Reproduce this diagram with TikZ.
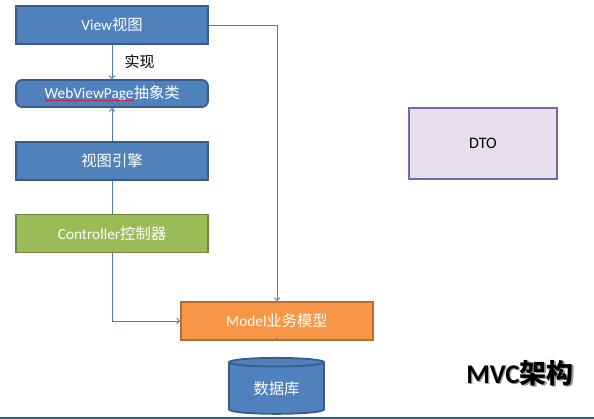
\documentclass[tikz,border=0pt]{standalone}
\usepackage{fontspec}
\setmainfont{Carlito}
\newfontfamily\cjk{Noto Sans CJK SC}
\usetikzlibrary{positioning,calc,arrows.meta,shapes.geometric,decorations.pathmorphing}

\definecolor{blueFill}{HTML}{4F81BD}
\definecolor{blueDraw}{HTML}{385D8A}
\definecolor{greenFill}{HTML}{9BBB59}
\definecolor{greenDraw}{HTML}{71893F}
\definecolor{orangeFill}{HTML}{F79646}
\definecolor{orangeDraw}{HTML}{B66D31}
\definecolor{dtoFill}{HTML}{E5E0EC}
\definecolor{dtoDraw}{HTML}{8064A2}
\definecolor{lineCol}{HTML}{4A7EBB}

% spell-check underline
\newcommand\squig[1]{\tikz[baseline=(w.base)]{\node[inner sep=0pt,outer sep=0pt,minimum width=0pt,
  minimum height=0pt,draw=none,fill=none,rounded corners=0pt](w){#1};
  \draw[red,line width=0.5pt,rounded corners=0pt,decorate,decoration={snake,amplitude=0.6pt,segment length=2.5pt}]
  ([yshift=-2pt]w.base west) -- ([yshift=-2pt]w.base east);}}

\begin{document}
\begin{tikzpicture}[x=1pt,y=-1pt,
    box/.style={draw=blueDraw,fill=blueFill,line width=1.8pt,minimum width=192pt,
      minimum height=38pt,text=white,font=\fontsize{15.3}{17}\selectfont,inner sep=0pt},
    link/.style={draw=lineCol,line width=0.8pt},
    arr/.style={link,-{Straight Barb[length=3pt,width=6pt]}}]
    \useasboundingbox (0,0) rectangle (594,419);

    % View side
    \node[box] (View) at (112,25) {View{\cjk 视图}};
    \node[box,rounded corners=6pt,minimum height=27pt] (Page) at (112,93.5) {\squig{WebViewPage}{\cjk 抽象类}};
    \node[box] (Engine) at (112,161) {{\cjk 视图引擎}};
    \node[box,draw=greenDraw,fill=greenFill] (Ctrl) at (112,233.5) {Controller{\cjk 控制器}};

    % Model side
    \node[box,draw=orangeDraw,fill=orangeFill] (Model) at (277,321) {Model{\cjk 业务模型}};
    \node[cylinder,shape border rotate=90,aspect=0.19,draw=blueDraw,fill=blueFill,line width=1.8pt,
      minimum width=95pt,minimum height=56pt,text=white,inner sep=0pt,
      font=\fontsize{15.3}{17}\selectfont] (DB) at (276.5,388.5) {\raisebox{-6pt}{\cjk 数据库}};
    \node[draw=dtoDraw,fill=dtoFill,line width=1.8pt,minimum width=148pt,minimum height=71pt,
      font=\fontsize{16}{18}\selectfont] (DTO) at (483,143.5) {DTO};

    % connectors
    \draw[arr] (View) -- node[right=9pt,font=\cjk\fontsize{15}{17}\selectfont] (impl) {实现} (Page);
    \draw[arr] (Engine) -- (Page);
    \draw[link] (Engine) -- (Ctrl);
    \draw[arr] (Ctrl.south) |- (Model.west);
    \draw[arr] (View.east) -| (Model.north);
    \coordinate (dbIn) at ($(DB.north)+(0,-20)$);
    \draw[link] (Model.south) -- (dbIn);

    % title
    \node[text=black!40,font=\fontsize{27}{29}\selectfont\bfseries] (titleShadow) at (521.3,374.3) {MVC{\cjk 架构}};
    \node[font=\fontsize{27}{29}\selectfont\bfseries] (title) at (520,373) {MVC{\cjk 架构}};
    \draw[blueDraw,line width=1.5pt] (0,418.2) -- (594,418.2);
\end{tikzpicture}
\end{document}
